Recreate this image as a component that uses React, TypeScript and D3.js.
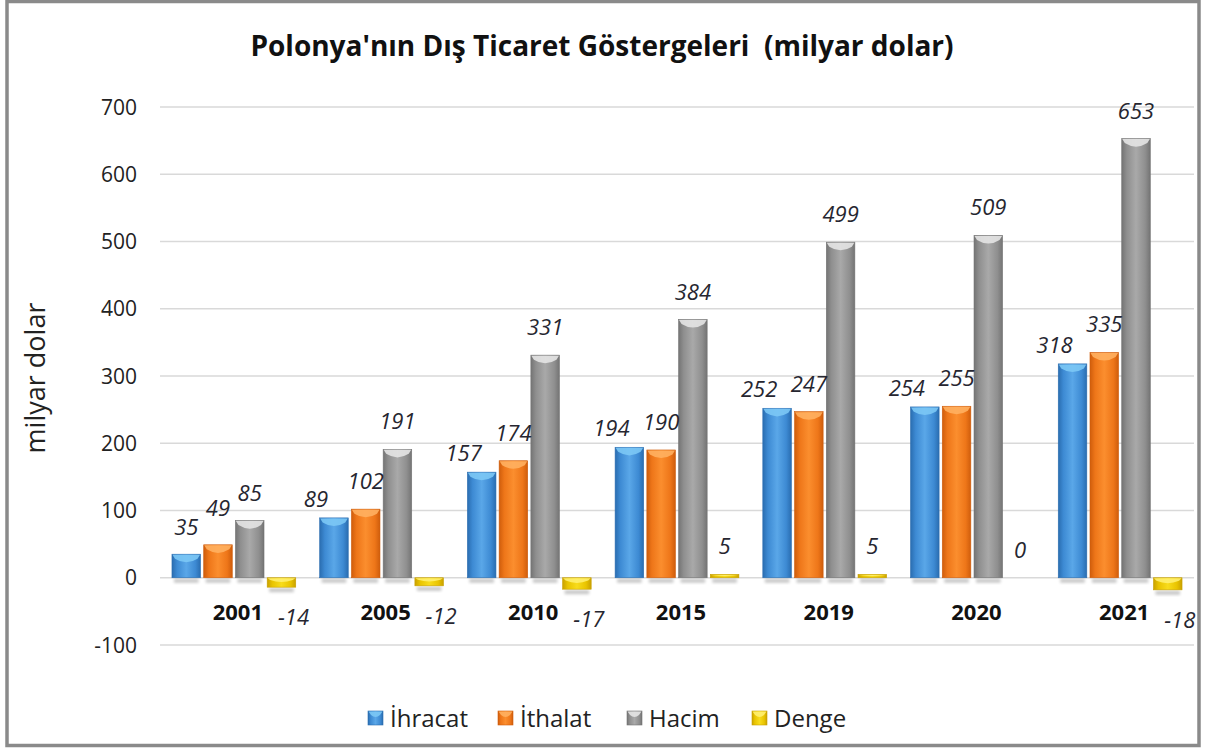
import React from "react";
import * as d3 from "d3";

const years = ["2001", "2005", "2010", "2015", "2019", "2020", "2021"];
const ihracat = [35, 89, 157, 194, 252, 254, 318];
const ithalat = [49, 102, 174, 190, 247, 255, 335];
const hacim = [85, 191, 331, 384, 499, 509, 653];
const denge = [-14, -12, -17, 5, 5, 0, -18];
const seriesNames = ["İhracat", "İthalat", "Hacim", "Denge"];
const yTicks = [-100, 0, 100, 200, 300, 400, 500, 600, 700];
const titleText = "Polonya'nın Dış Ticaret Göstergeleri  (milyar dolar)";
const yTitle = "milyar dolar";

const W = 1205;
const H = 748;
const FONT = "'Open Sans', 'Noto Sans', sans-serif";

const palette = [
  { dark: "#2a6db0", base: "#3d8ad3", light: "#5aa7e8", top: "#7cc8f5" },
  { dark: "#cf5d0c", base: "#ee7619", light: "#fb8e2e", top: "#ffb060" },
  { dark: "#747474", base: "#8f8f8f", light: "#a9a9a9", top: "#e4e4e4" },
  { dark: "#c9a100", base: "#e9c400", light: "#f8dc1c", top: "#fff070" },
];

const seriesData = [ihracat, ithalat, hacim, denge];

export default function App() {
  const x0 = d3
    .scaleBand<string>()
    .domain(years)
    .range([160, 1194])
    .paddingInner(0.162)
    .paddingOuter(0.081);
  const x1 = d3
    .scaleBand<string>()
    .domain(seriesNames)
    .range([0, x0.bandwidth()])
    .paddingInner(0.1);
  const y = d3.scaleLinear().domain([-100, 700]).range([645, 107]);
  const y0 = y(0);

  const bars: any[] = [];
  years.forEach((yr, i) => {
    seriesNames.forEach((s, si) => {
      const v = seriesData[si][i];
      bars.push({ yr, s, si, v, i, x: (x0(yr) as number) + (x1(s) as number), w: x1.bandwidth() });
    });
  });

  const labelPos = (b: any) => {
    const cx = b.x + b.w / 2;
    if (b.v < 0) return { x: cx + 12, y: y(b.v) + 38 };
    if (b.si === 0) {
      if (b.i === 0) return { x: cx, y: y(b.v) - 19 };
      return { x: cx - 18, y: y(b.v) - 11 };
    }
    if (b.si === 1 && b.i === 0) return { x: cx, y: y(b.v) - 29 };
    return { x: cx, y: y(b.v) - 20 };
  };

  const legendX = [368, 498, 627, 752];

  return (
    <div style={{ position: "absolute", left: 0, top: 0 }}>
      <svg width={W} height={H} style={{ display: "block", background: "#fff" }}>
        <defs>
          {palette.map((p, i) => (
            <linearGradient key={i} id={`g${i}`} x1="0" x2="1" y1="0" y2="0">
              <stop offset="0%" stopColor={p.dark} />
              <stop offset="18%" stopColor={p.base} />
              <stop offset="50%" stopColor={p.light} />
              <stop offset="82%" stopColor={p.base} />
              <stop offset="100%" stopColor={p.dark} />
            </linearGradient>
          ))}
          <filter id="blur" x="-20%" y="-50%" width="140%" height="200%">
            <feGaussianBlur stdDeviation="1.5" />
          </filter>
        </defs>

        {/* frame */}
        <rect x={7} y={1.5} width={1192} height={744} fill="#fff" stroke="#8a8a8a" strokeWidth={3.5} />

        {/* title */}
        <text
          x={602}
          y={56}
          textAnchor="middle"
          fontFamily={FONT}
          fontWeight={700}
          fontSize={28}
          fill="#111"
          style={{ whiteSpace: "pre" }}
        >
          {titleText}
        </text>

        {/* gridlines */}
        {yTicks.map((t) => (
          <line key={t} x1={160} x2={1194} y1={y(t)} y2={y(t)} stroke="#d9d9d9" strokeWidth={1.3} />
        ))}

        {/* y tick labels */}
        {yTicks.map((t) => (
          <text
            key={t}
            x={137}
            y={y(t)}
            dy="0.36em"
            textAnchor="end"
            fontFamily={FONT}
            fontSize={21}
            fill="#222"
          >
            {t}
          </text>
        ))}

        {/* y axis title */}
        <text
          transform={`translate(45,378) rotate(-90)`}
          textAnchor="middle"
          fontFamily={FONT}
          fontSize={27}
          fill="#222"
        >
          {yTitle}
        </text>

        {/* shadows */}
        {bars
          .filter((b) => b.v !== 0)
          .map((b, i) => (
            <rect
              key={`sh${i}`}
              x={b.x + 2}
              y={b.v > 0 ? y0 + 1 : y(b.v) + 1}
              width={b.w - 4}
              height={4}
              fill="#000"
              opacity={0.22}
              filter="url(#blur)"
            />
          ))}

        {/* bars */}
        {bars
          .filter((b) => b.v !== 0)
          .map((b, i) => {
            const top = Math.min(y(b.v), y0);
            const h = Math.abs(y(b.v) - y0);
            const p = palette[b.si];
            const bev = Math.min(9, h / 2);
            return (
              <g key={`b${i}`}>
                <rect x={b.x} y={top} width={b.w} height={h} fill={`url(#g${b.si})`} stroke={p.dark} strokeWidth={0.6} />
                <path
                  d={`M${b.x + 0.5},${top + 0.5} L${b.x + b.w - 0.5},${top + 0.5} L${b.x + b.w - 3},${top + bev * 0.5} Q${b.x + b.w / 2},${top + bev * 1.3} ${b.x + 3},${top + bev * 0.5} Z`}
                  fill={p.top}
                  opacity={0.9}
                />
              </g>
            );
          })}

        {/* value labels */}
        {bars.map((b, i) => {
          const lp = labelPos(b);
          return (
            <text
              key={`l${i}`}
              x={lp.x}
              y={lp.y}
              textAnchor="middle"
              fontFamily={FONT}
              fontStyle="italic"
              fontSize={22}
              fill="#262630"
            >
              {b.v}
            </text>
          );
        })}

        {/* year labels */}
        {years.map((yr) => (
          <text
            key={yr}
            x={(x0(yr) as number) + x0.bandwidth() / 2 + 4}
            y={620}
            textAnchor="middle"
            fontFamily={FONT}
            fontWeight={700}
            fontSize={22}
            fill="#111"
          >
            {yr}
          </text>
        ))}

        {/* legend */}
        {seriesNames.map((s, i) => {
          const p = palette[i];
          return (
            <g key={s} transform={`translate(${legendX[i]},711)`}>
              <rect x={0} y={0} width={15} height={14} fill={`url(#g${i})`} stroke={p.dark} strokeWidth={0.6} />
              <path d="M0.5,0.5 L14.5,0.5 L12,4 Q7.5,8 3,4 Z" fill={p.top} opacity={0.9} />
              <text x={22} y={16} fontFamily={FONT} fontSize={24} fill="#222">
                {s}
              </text>
            </g>
          );
        })}
      </svg>
    </div>
  );
}
